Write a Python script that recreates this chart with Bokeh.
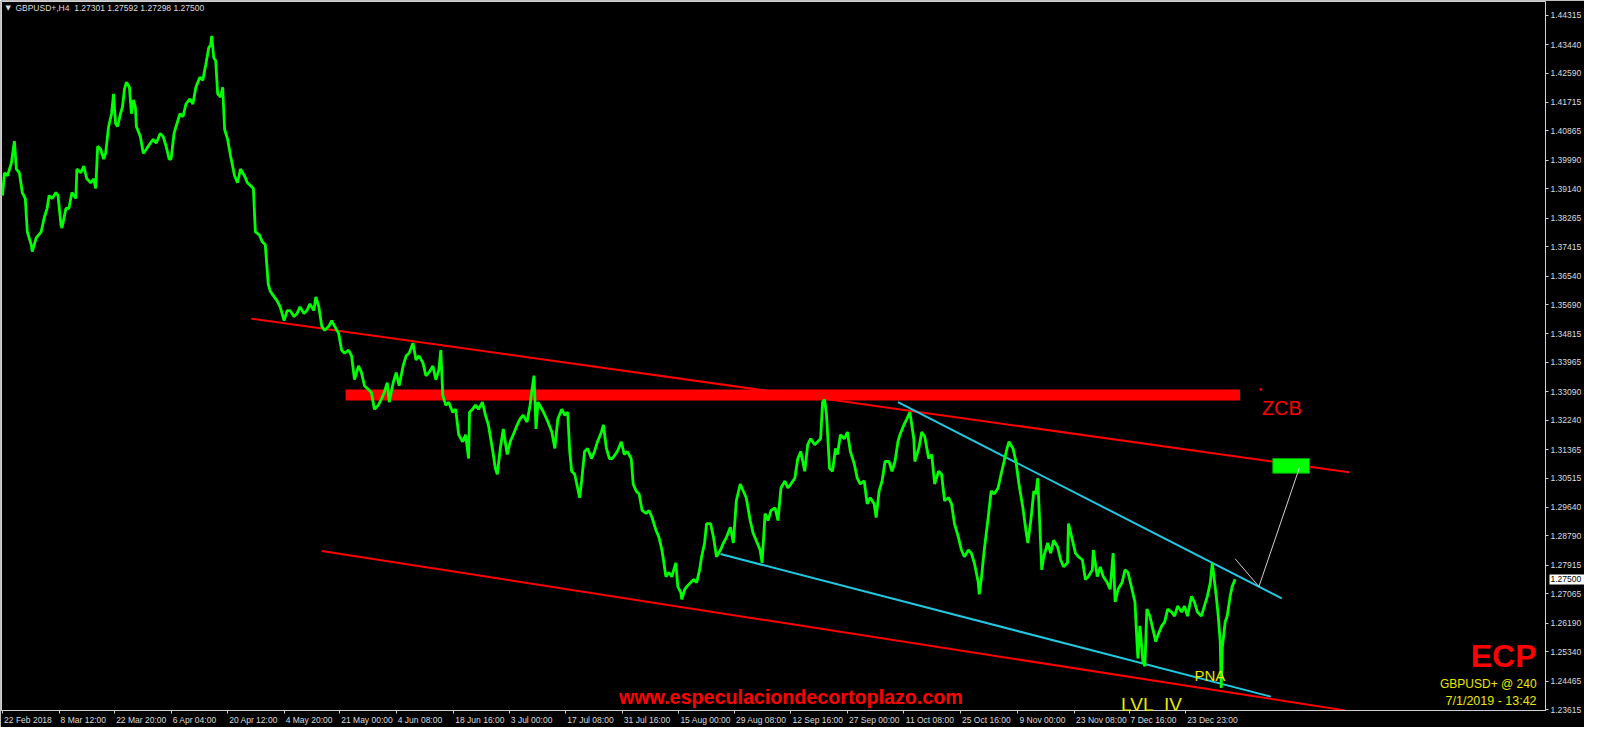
from bokeh.plotting import figure
from bokeh.models import Range1d, FixedTicker, PrintfTickFormatter, Label, LinearAxis
from bokeh.embed import file_html
from bokeh.resources import INLINE

# ---------------- data ----------------
symbol = "GBPUSD+"
timeframe = "H4"
last_ohlc = ["1.27301", "1.27592", "1.27298", "1.27500"]
last_price = 1.27500

bars = [
    1, 3, 6, 10, 13, 15, 18, 21, 24, 26,
    30, 31, 35, 40, 43, 46, 48, 51, 55, 57,
    60, 61, 65, 68, 71, 75, 76, 80, 83, 86,
    90, 93, 95, 97, 100, 103, 105, 108, 111, 113,
    115, 117, 120, 122, 124, 126, 129, 131, 133, 135,
    136, 140, 143, 146, 150, 153, 156, 160, 163, 166,
    169, 171, 174, 176, 180, 183, 186, 190, 193, 196,
    200, 203, 206, 209, 211, 212, 214, 216, 218, 221,
    223, 225, 228, 231, 235, 238, 241, 245, 248, 251,
    254, 256, 260, 263, 266, 269, 271, 275, 278, 281,
    285, 288, 291, 295, 298, 301, 305, 308, 311, 315,
    317, 320, 323, 326, 330, 333, 336, 340, 343, 346,
    350, 353, 356, 360, 363, 366, 370, 373, 376, 380,
    383, 386, 389, 391, 395, 398, 401, 405, 408, 411,
    415, 418, 421, 425, 428, 431, 435, 438, 441, 443,
    445, 448, 451, 455, 458, 461, 465, 468, 471, 472,
    475, 478, 481, 485, 488, 491, 495, 498, 500, 503,
    506, 510, 513, 516, 520, 523, 526, 530, 533, 535,
    537, 539, 541, 545, 548, 551, 555, 558, 561, 565,
    568, 571, 573, 575, 578, 581, 583, 585, 588, 591,
    595, 598, 601, 605, 607, 610, 613, 616, 621, 625,
    628, 631, 635, 637, 640, 643, 646, 650, 653, 656,
    660, 663, 666, 670, 673, 676, 680, 682, 685, 686,
    689, 691, 695, 698, 701, 704, 706, 709, 711, 715,
    718, 721, 725, 728, 731, 735, 738, 741, 745, 748,
    751, 755, 758, 761, 765, 767, 770, 773, 776, 780,
    783, 786, 790, 793, 796, 800, 803, 806, 810, 813,
    816, 820, 823, 826, 828, 830, 832, 835, 838, 841,
    843, 846, 850, 853, 856, 860, 863, 866, 870, 873,
    876, 880, 882, 885, 888, 891, 895, 898, 901, 904,
    906, 910, 913, 916, 920, 921, 925, 928, 931, 935,
    938, 941, 945, 948, 951, 955, 958, 961, 965, 968,
    971, 975, 978, 981, 985, 986, 988, 991, 995, 998,
    1001, 1005, 1008, 1011, 1014, 1016, 1020, 1023, 1026, 1030,
    1033, 1035, 1038, 1041, 1043, 1045, 1047, 1049, 1051, 1055,
    1058, 1061, 1065, 1068, 1071, 1075, 1076, 1080, 1083, 1086,
    1090, 1093, 1096, 1100, 1101, 1105, 1108, 1111, 1115, 1118,
    1121, 1123, 1126, 1130, 1133, 1136, 1140, 1143, 1145, 1146,
    1148, 1151, 1153, 1155, 1158, 1161, 1164, 1166, 1170, 1173,
    1176, 1180, 1183, 1186, 1190, 1193, 1196, 1200, 1203, 1206,
    1210, 1213, 1216, 1219, 1221, 1223, 1225, 1227, 1229, 1230,
    1231, 1234, 1236, 1239, 1241, 1244,
]

closes = [
    1.3894, 1.3962, 1.3953, 1.3991, 1.4056, 1.3973, 1.3962, 1.3903, 1.3885, 1.3786,
    1.3747, 1.3727, 1.3768, 1.3786, 1.3827, 1.3856, 1.3894, 1.3885, 1.3903, 1.3894,
    1.3806, 1.3797, 1.3856, 1.3856, 1.3903, 1.3885, 1.3973, 1.3962, 1.3982, 1.3944,
    1.3932, 1.3944, 1.3915, 1.4041, 1.4032, 1.4003, 1.4020, 1.4100, 1.4138, 1.4197,
    1.4109, 1.4100, 1.4138, 1.4158, 1.4211, 1.4232, 1.4217, 1.4138, 1.4179, 1.4158,
    1.4100, 1.4070, 1.4020, 1.4032, 1.4050, 1.4062, 1.4050, 1.4079, 1.4070, 1.4041,
    1.4003, 1.4003, 1.4079, 1.4100, 1.4138, 1.4129, 1.4167, 1.4182, 1.4167, 1.4217,
    1.4247, 1.4238, 1.4285, 1.4335, 1.4343, 1.4370, 1.4305, 1.4296, 1.4197, 1.4188,
    1.4217, 1.4091, 1.4062, 1.4012, 1.3953, 1.3932, 1.3973, 1.3953, 1.3932, 1.3924,
    1.3915, 1.3786, 1.3777, 1.3756, 1.3747, 1.3630, 1.3609, 1.3592, 1.3580, 1.3562,
    1.3521, 1.3551, 1.3551, 1.3533, 1.3542, 1.3562, 1.3542, 1.3551, 1.3571, 1.3551,
    1.3592, 1.3562, 1.3504, 1.3492, 1.3504, 1.3521, 1.3504, 1.3483, 1.3433, 1.3424,
    1.3433, 1.3416, 1.3345, 1.3386, 1.3366, 1.3327, 1.3316, 1.3307, 1.3257, 1.3269,
    1.3286, 1.3307, 1.3336, 1.3278, 1.3336, 1.3366, 1.3327, 1.3386, 1.3416, 1.3424,
    1.3454, 1.3404, 1.3416, 1.3395, 1.3357, 1.3366, 1.3386, 1.3345, 1.3374, 1.3433,
    1.3298, 1.3269, 1.3278, 1.3248, 1.3257, 1.3181, 1.3160, 1.3181, 1.3110, 1.3248,
    1.3257, 1.3269, 1.3257, 1.3278, 1.3239, 1.3210, 1.3140, 1.3081, 1.3063, 1.3140,
    1.3198, 1.3122, 1.3160, 1.3181, 1.3210, 1.3228, 1.3239, 1.3219, 1.3269, 1.3316,
    1.3357, 1.3198, 1.3278, 1.3257, 1.3239, 1.3219, 1.3189, 1.3140, 1.3228, 1.3257,
    1.3239, 1.3248, 1.3131, 1.3072, 1.3063, 1.3022, 1.2993, 1.3043, 1.3131, 1.3140,
    1.3110, 1.3131, 1.3160, 1.3189, 1.3210, 1.3140, 1.3110, 1.3110, 1.3131, 1.3160,
    1.3122, 1.3131, 1.3110, 1.3034, 1.3013, 1.3004, 1.2955, 1.2946, 1.2955, 1.2934,
    1.2896, 1.2875, 1.2837, 1.2758, 1.2770, 1.2758, 1.2799, 1.2728, 1.2711, 1.2690,
    1.2720, 1.2728, 1.2740, 1.2749, 1.2740, 1.2778, 1.2817, 1.2858, 1.2916, 1.2916,
    1.2875, 1.2817, 1.2837, 1.2858, 1.2875, 1.2905, 1.2858, 1.2984, 1.3034, 1.3013,
    1.2993, 1.2925, 1.2887, 1.2866, 1.2837, 1.2799, 1.2946, 1.2925, 1.2955, 1.2963,
    1.2925, 1.3022, 1.3043, 1.3022, 1.3034, 1.3051, 1.3110, 1.3131, 1.3072, 1.3151,
    1.3169, 1.3151, 1.3160, 1.3169, 1.3278, 1.3286, 1.3239, 1.3081, 1.3072, 1.3140,
    1.3122, 1.3181, 1.3169, 1.3189, 1.3131, 1.3093, 1.3051, 1.3034, 1.3043, 1.2975,
    1.2993, 1.2975, 1.2934, 1.3013, 1.3043, 1.3101, 1.3101, 1.3072, 1.3101, 1.3160,
    1.3181, 1.3210, 1.3228, 1.3248, 1.3169, 1.3101, 1.3140, 1.3189, 1.3175, 1.3110,
    1.3122, 1.3034, 1.3072, 1.3063, 1.2984, 1.2993, 1.2975, 1.2916, 1.2875, 1.2837,
    1.2817, 1.2837, 1.2828, 1.2799, 1.2740, 1.2705, 1.2749, 1.2837, 1.2934, 1.3013,
    1.3004, 1.3022, 1.3063, 1.3101, 1.3140, 1.3160, 1.3140, 1.3101, 1.3034, 1.2963,
    1.2896, 1.2858, 1.2925, 1.3013, 1.3004, 1.3051, 1.2916, 1.2778, 1.2817, 1.2858,
    1.2828, 1.2866, 1.2846, 1.2808, 1.2787, 1.2799, 1.2916, 1.2866, 1.2828, 1.2817,
    1.2808, 1.2749, 1.2758, 1.2778, 1.2837, 1.2758, 1.2787, 1.2758, 1.2740, 1.2720,
    1.2828, 1.2682, 1.2720, 1.2740, 1.2778, 1.2770, 1.2720, 1.2682, 1.2564, 1.2514,
    1.2611, 1.2505, 1.2491, 1.2661, 1.2640, 1.2602, 1.2564, 1.2582, 1.2611, 1.2623,
    1.2661, 1.2652, 1.2640, 1.2670, 1.2652, 1.2670, 1.2640, 1.2699, 1.2682, 1.2652,
    1.2640, 1.2670, 1.2699, 1.2740, 1.2799, 1.2749, 1.2699, 1.2640, 1.2564, 1.2426,
    1.2544, 1.2623, 1.2640, 1.2699, 1.2728, 1.2750,
]

price_ticks = [1.44315, 1.43440, 1.42590, 1.41715, 1.40865, 1.39990, 1.39140,
               1.38265, 1.37415, 1.36540, 1.35690, 1.34815, 1.33965, 1.33090,
               1.32240, 1.31365, 1.30515, 1.29640, 1.28790, 1.27915, 1.27065,
               1.26190, 1.25340, 1.24465, 1.23615]

date_tick_bars = [1, 58, 114, 171, 228, 285, 341, 398, 456, 512, 569,
                  626, 683, 739, 796, 853, 910, 967, 1025, 1082, 1137, 1194]
date_tick_labels = ["22 Feb 2018", "8 Mar 12:00", "22 Mar 20:00", "6 Apr 04:00",
                    "20 Apr 12:00", "4 May 20:00", "21 May 00:00", "4 Jun 08:00",
                    "18 Jun 16:00", "3 Jul 00:00", "17 Jul 08:00", "31 Jul 16:00",
                    "15 Aug 00:00", "29 Aug 08:00", "12 Sep 16:00", "27 Sep 00:00",
                    "11 Oct 08:00", "25 Oct 16:00", "9 Nov 00:00", "23 Nov 08:00",
                    "7 Dec 16:00", "23 Dec 23:00"]

# drawn objects (bar index, price)
upper_channel_bars = [252, 1359]
upper_channel_prices = [1.3527, 1.3069]
lower_channel_bars = [323, 1355]
lower_channel_prices = [1.2834, 1.2359]
upper_wedge_bars = [904, 1291]
upper_wedge_prices = [1.3278, 1.2693]
lower_wedge_bars = [725, 1280]
lower_wedge_prices = [1.2825, 1.2400]
zone_bars = [347, 1249]
zone_prices = [1.3283, 1.3316]
target_bars = [1282, 1319]
target_prices = [1.3066, 1.3110]
arrow_bars = [1309, 1268, 1244]
arrow_prices = [1.3084, 1.2728, 1.2811]

# ---------------- figure ----------------
AXIS_COLOR = "#d0d0d0"
TEXT_COLOR = "#dcdcdc"
YELLOW = "#e8e800"
FONT = "Liberation Sans"
LABEL_PX = 8.5
NBSP = "\u00a0"
X_END = 1557

p = figure(width=1584, height=727,
           x_range=Range1d(0, X_END), y_range=Range1d(1.23586, 1.44726),
           output_backend="svg", toolbar_location=None,
           y_axis_location="right", x_axis_location="below",
           background_fill_color="black", border_fill_color="black",
           outline_line_color=AXIS_COLOR, outline_line_width=1,
           min_border_left=1, min_border_top=1,
           min_border_right=38, min_border_bottom=14)
p.grid.visible = False


def style_axis(ax):
    ax.axis_line_color = AXIS_COLOR
    ax.major_tick_line_color = AXIS_COLOR
    ax.minor_tick_line_color = None
    ax.minor_tick_in = 0
    ax.minor_tick_out = 0
    ax.major_tick_in = 0
    ax.major_tick_out = 3
    ax.major_label_standoff = 2
    ax.major_label_text_color = TEXT_COLOR
    ax.major_label_text_font = FONT
    ax.major_label_text_font_size = f"{LABEL_PX}px"


style_axis(p.yaxis[0])
p.yaxis.ticker = FixedTicker(ticks=price_ticks)
p.yaxis.formatter = PrintfTickFormatter(format="%.5f")

# current-price marker: a second price axis stacked outside the main one,
# whose single tick is drawn inwards as a white box with the label on top
price_box_axis = LinearAxis(ticker=FixedTicker(ticks=[last_price]),
                            formatter=PrintfTickFormatter(format="%.5f"))
style_axis(price_box_axis)
price_box_axis.axis_line_color = None
price_box_axis.major_tick_in = 35
price_box_axis.major_tick_out = 0
price_box_axis.major_tick_line_width = 10
price_box_axis.major_tick_line_color = "white"
price_box_axis.major_tick_line_cap = "butt"
price_box_axis.major_label_standoff = -34
price_box_axis.major_label_text_color = "black"
p.add_layout(price_box_axis, "right")

# bottom axis 1: tick marks at the bar positions (no label text)
style_axis(p.xaxis[0])
p.xaxis.ticker = FixedTicker(ticks=date_tick_bars)
p.xaxis.major_label_overrides = {b: "" for b in date_tick_bars}
p.xaxis.major_label_text_font_size = "1px"
p.xaxis.major_label_standoff = 0

# bottom axis 2: labels, left-aligned to the tick marks (MT4 style)
CHAR_W = {c: 0.556 for c in "0123456789abdeghnopqu"}
CHAR_W.update({" ": 0.278, ":": 0.278, "r": 0.333, "t": 0.278, "l": 0.222,
               "y": 0.5, "v": 0.5, "c": 0.5, "F": 0.611, "M": 0.833, "A": 0.667,
               "J": 0.5, "S": 0.667, "O": 0.778, "N": 0.722, "D": 0.722})
px_per_bar = (1584 - 1 - 46) / float(X_END)


def text_width_bars(s):
    return sum(CHAR_W.get(ch, 0.556) for ch in s) * LABEL_PX / px_per_bar


label_centers = [round(b + 1.5 + text_width_bars(s) / 2, 2)
                 for b, s in zip(date_tick_bars, date_tick_labels)]
label_axis = LinearAxis(ticker=FixedTicker(ticks=label_centers),
                        major_label_overrides={c: s for c, s in zip(label_centers, date_tick_labels)})
style_axis(label_axis)
label_axis.axis_line_color = None
label_axis.major_tick_line_color = None
label_axis.major_tick_out = 0
label_axis.major_label_standoff = 1
p.add_layout(label_axis, "below")

# red zone band
p.quad(left=[zone_bars[0]], right=[zone_bars[1]],
       bottom=[zone_prices[0]], top=[zone_prices[1]],
       fill_color="#ff0000", line_color=None)

# channels
p.line(upper_channel_bars, upper_channel_prices, line_color="#ff0000", line_width=2)
p.line(lower_channel_bars, lower_channel_prices, line_color="#ff0000", line_width=2)
p.line(upper_wedge_bars, upper_wedge_prices, line_color="#22c8e0", line_width=2)
p.line(lower_wedge_bars, lower_wedge_prices, line_color="#22c8e0", line_width=2)

# price series
p.line(bars, closes, line_color="#00ff00", line_width=2.8)

# target box and arrow
p.quad(left=[target_bars[0]], right=[target_bars[1]],
       bottom=[target_prices[0]], top=[target_prices[1]],
       fill_color="#00ff00", line_color="#00a000", line_width=1)
p.line(arrow_bars[:2], arrow_prices[:2], line_color="#d0d0d0", line_width=1)
p.line(arrow_bars[1:], arrow_prices[1:], line_color="#d0d0d0", line_width=1)
p.scatter([1270], [1.3316], size=2, color="#ff0000")


def add_text(x, y, text, size, color, align="left", baseline="alphabetic",
             style="normal", font=FONT, **kw):
    p.add_layout(Label(x=x, y=y, text=text, text_font=font, text_font_size=size,
                       text_color=color, text_align=align, text_baseline=baseline,
                       text_font_style=style, **kw))


add_text(4, 1.4452, "\u25bc", "7px", TEXT_COLOR, baseline="middle", font="DejaVu Sans")
add_text(14, 1.4452, f"{symbol},{timeframe}{NBSP}{NBSP}" + " ".join(last_ohlc), "8.5px",
         TEXT_COLOR, baseline="middle")
add_text(1271, 1.3260, "ZCB", "20px", "#ff0000")
add_text(1203, 1.2464, "PNA", "15px", YELLOW)
add_text(1129, 1.2376, f"LVL{NBSP}{NBSP}IV", "19px", YELLOW)
add_text(796, 1.2398, "www.especulaciondecortoplazo.com", "19.7px", "#ff0000",
         align="center", style="bold")
add_text(1548, 1.2520, "ECP", "32px", "#ff0000", align="right", style="bold")
add_text(1548, 1.2438, "GBPUSD+ @ 240", "12px", YELLOW, align="right")
add_text(1548, 1.2388, "7/1/2019 - 13:42", "12.5px", YELLOW, align="right")

open("out.html", "w").write(file_html(p, INLINE))
